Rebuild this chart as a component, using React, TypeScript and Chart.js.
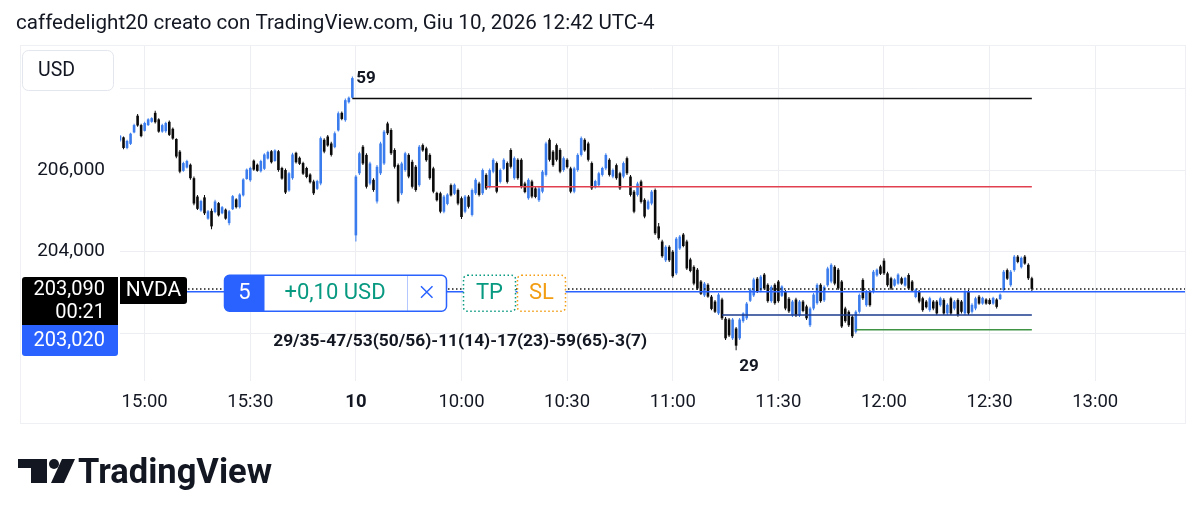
import React, { useEffect, useRef } from "react";
import { Chart, registerables } from "chart.js";

Chart.register(...registerables);

const TITLE = "caffedelight20 creato con TradingView.com, Giu 10, 2026 12:42 UTC-4";

// 1-minute candles, index 0 = 14:53 (previous session) ... index 259 = 12:42
const opens = [
206.72,206.80,206.54,206.64,206.92,207.33,207.10,206.96,207.10,207.18,
207.40,207.24,206.94,206.95,207.18,207.01,206.76,206.45,205.98,206.06,
206.13,205.80,205.35,205.01,205.33,204.81,205.00,204.97,205.19,204.94,
205.03,204.70,205.04,205.28,205.09,205.38,205.78,205.75,206.23,206.13,
205.97,206.03,206.28,206.46,206.22,206.46,206.05,206.00,205.50,205.80,
206.42,206.30,206.17,206.05,205.89,205.72,205.54,205.67,206.74,206.82,
206.65,206.56,206.97,207.40,207.22,207.66,207.77,204.40,205.92,206.57,
206.37,205.67,205.76,205.23,205.92,206.16,207.14,206.98,206.49,206.12,
205.43,206.00,206.37,206.20,206.08,205.63,206.61,206.53,206.37,206.04,
205.44,205.43,204.98,205.17,205.63,205.42,205.51,205.31,204.98,205.35,
204.90,205.43,205.67,205.43,205.88,205.59,205.96,206.17,205.71,206.03,
206.17,206.49,205.80,206.25,206.25,205.67,205.31,205.72,205.55,205.26,
205.47,205.88,206.74,206.45,206.61,206.49,206.00,206.25,206.04,205.47,
206.00,206.37,206.74,206.65,206.17,205.58,205.63,205.88,206.04,206.25,
205.84,206.12,205.92,205.84,206.29,205.84,205.47,205.39,205.72,205.27,
205.05,205.18,205.51,204.62,204.25,203.79,204.12,204.00,203.47,204.08,
204.42,204.25,203.81,203.63,203.56,203.27,202.93,203.19,202.90,202.78,
202.49,202.83,202.36,202.34,201.88,202.12,201.88,202.30,202.37,202.80,
202.93,203.34,203.05,203.44,203.19,202.79,203.19,203.27,202.92,203.02,
202.85,202.44,202.83,202.44,202.78,202.66,202.20,202.61,202.74,203.19,
202.81,203.18,203.27,203.63,203.56,203.27,202.61,202.53,202.41,202.04,
202.53,203.31,202.69,203.02,203.02,203.42,203.64,203.78,203.47,203.35,
203.17,203.22,203.35,203.17,203.43,203.27,202.89,203.02,202.86,202.78,
202.57,202.78,202.78,202.69,202.82,202.49,202.86,202.61,202.82,202.78,
202.49,203.02,202.53,202.61,202.90,202.73,202.83,202.82,202.73,202.83,
202.84,203.06,203.55,203.18,203.55,203.88,203.62,203.88,203.68,203.35
];

const highs = [
206.86,206.82,206.74,206.91,207.13,207.37,207.13,207.18,207.27,207.29,
207.45,207.27,207.13,207.18,207.21,207.04,206.78,206.49,206.20,206.25,
206.16,205.84,205.39,205.27,205.39,205.02,205.06,205.27,205.22,205.12,
205.06,205.02,205.39,205.31,205.43,205.80,206.04,206.08,206.26,206.16,
206.25,206.41,206.47,206.49,206.51,206.49,206.08,206.04,205.96,206.42,
206.45,206.33,206.20,206.08,205.92,205.76,205.76,206.82,206.78,206.86,
206.69,206.94,207.43,207.43,207.75,207.80,208.29,205.88,206.45,206.61,
206.41,206.20,205.80,206.12,206.69,206.98,207.18,207.02,206.53,206.16,
206.20,206.45,206.41,206.25,206.12,206.61,206.65,206.57,206.41,206.08,
205.47,205.47,205.39,205.43,205.67,205.67,205.55,205.35,205.39,205.39,
205.55,205.80,205.71,206.04,205.92,206.04,206.29,206.21,206.04,206.29,
206.21,206.53,206.33,206.29,206.29,205.71,205.80,205.76,205.59,205.59,
206.00,206.69,206.78,206.49,206.65,206.53,206.33,206.29,206.08,206.08,
206.41,206.82,206.78,206.69,206.21,205.76,205.96,206.08,206.41,206.29,
206.04,206.16,205.96,206.21,206.33,205.88,205.51,205.71,205.76,205.31,
205.27,205.51,205.55,204.70,204.29,204.16,204.16,204.04,204.36,204.41,
204.46,204.29,203.85,203.67,203.60,203.31,203.26,203.23,202.94,202.82,
202.99,202.87,202.40,202.38,202.38,202.16,202.38,202.52,202.77,203.11,
203.36,203.38,203.43,203.48,203.23,203.18,203.23,203.31,203.18,203.06,
202.89,202.82,202.87,202.82,202.82,202.70,202.65,202.99,203.23,203.23,
203.18,203.63,203.72,203.67,203.60,203.31,202.65,202.57,202.45,202.57,
202.98,203.35,203.06,203.06,203.55,203.59,203.68,203.84,203.51,203.39,
203.35,203.47,203.39,203.39,203.47,203.31,203.10,203.06,202.90,202.82,
202.90,202.82,202.82,202.90,202.86,202.74,202.90,202.82,202.86,202.82,
203.06,203.06,202.74,202.90,202.94,202.90,202.86,202.86,202.90,202.86,
202.98,203.55,203.59,203.55,203.92,203.92,203.88,203.92,203.72,203.39
];

const lows = [
206.69,206.51,206.51,206.61,206.90,207.06,206.80,206.94,207.08,207.16,
207.14,206.91,206.91,206.91,206.83,206.74,206.29,205.92,205.96,206.04,
205.76,205.14,205.02,204.98,204.90,204.78,204.55,204.94,204.86,204.92,
204.78,204.65,205.02,205.06,205.06,205.35,205.76,205.71,205.98,205.96,
205.94,206.00,206.26,206.16,206.20,205.96,205.76,205.41,205.47,205.76,
206.16,206.12,205.88,205.80,205.67,205.39,205.51,205.63,206.41,206.57,
206.33,206.53,206.94,207.22,207.18,207.63,207.75,204.25,205.88,206.12,
205.55,205.63,205.47,205.18,205.88,206.12,206.86,206.37,206.04,205.18,
205.39,205.96,205.80,205.55,205.47,205.59,206.45,206.20,205.76,205.43,
205.23,204.94,204.94,205.14,205.35,205.39,205.14,204.80,204.94,205.06,
204.86,205.39,205.35,205.39,205.51,205.55,205.92,205.43,205.67,206.00,
205.67,206.04,205.76,205.76,205.55,205.43,205.27,205.31,205.31,205.22,
205.43,205.84,206.21,206.08,206.21,205.92,205.96,206.04,205.43,205.43,
205.96,206.33,206.45,206.21,205.51,205.55,205.59,205.84,206.00,205.84,
205.80,205.76,205.51,205.80,205.88,205.35,204.94,205.35,205.18,204.82,
205.02,205.14,204.41,204.29,203.85,203.75,203.75,203.36,203.43,204.04,
204.11,203.55,203.50,203.18,203.06,202.94,202.89,202.87,202.57,202.50,
202.45,202.33,201.84,201.91,201.84,201.59,201.84,202.26,202.33,202.77,
202.89,202.99,203.01,203.06,202.75,202.75,202.70,202.75,202.89,202.57,
202.50,202.40,202.40,202.40,202.52,202.33,202.16,202.57,202.70,202.75,
202.77,203.14,203.23,203.18,203.06,202.13,202.26,202.16,201.89,202.00,
202.49,202.82,202.65,202.65,202.98,203.39,203.43,203.43,203.14,203.06,
203.14,203.19,203.19,203.14,203.06,203.02,202.86,202.74,202.53,202.61,
202.53,202.57,202.45,202.65,202.45,202.45,202.45,202.57,202.41,202.49,
202.45,202.45,202.49,202.57,202.70,202.70,202.70,202.70,202.70,202.61,
202.82,203.02,203.31,203.14,203.51,203.72,203.59,203.68,203.31,203.02
];

const closes = [
206.84,206.54,206.71,206.89,207.10,207.09,206.83,207.15,207.24,207.27,
207.17,206.94,207.10,207.15,206.86,206.77,206.33,205.96,206.17,206.22,
205.80,205.18,205.05,205.24,204.94,204.99,204.62,205.23,204.89,205.09,
204.81,204.99,205.36,205.09,205.40,205.77,206.01,206.05,206.01,205.98,
206.22,206.38,206.44,206.19,206.48,206.00,205.79,205.45,205.92,206.38,
206.19,206.15,205.91,205.83,205.70,205.43,205.73,206.78,206.45,206.60,
206.37,206.90,207.39,207.25,207.71,207.77,208.25,205.84,206.41,206.16,
205.59,206.16,205.51,206.08,206.65,206.94,206.90,206.41,206.08,205.23,
206.16,206.41,205.84,205.59,205.51,206.57,206.48,206.24,205.80,205.47,
205.26,204.98,205.35,205.40,205.38,205.64,205.18,204.85,205.35,205.10,
205.51,205.76,205.39,206.00,205.55,206.00,206.25,205.47,206.00,206.25,
205.71,206.08,206.29,205.80,205.59,205.46,205.76,205.35,205.34,205.55,
205.96,206.65,206.25,206.12,206.25,205.96,206.29,206.07,205.47,206.04,
206.37,206.78,206.48,206.25,205.55,205.73,205.92,206.05,206.37,205.88,
206.00,205.80,205.55,206.17,205.92,205.39,204.98,205.67,205.22,204.86,
205.23,205.47,204.45,204.33,203.89,204.12,203.79,203.40,204.32,204.37,
204.14,203.59,203.53,203.22,203.10,202.97,203.22,202.90,202.60,202.53,
202.95,202.37,201.88,201.95,202.34,201.70,202.34,202.49,202.73,203.07,
203.32,203.03,203.39,203.10,202.79,203.14,202.74,202.79,203.15,202.61,
202.54,202.78,202.44,202.78,202.55,202.37,202.61,202.95,203.19,202.79,
203.14,203.59,203.68,203.22,203.10,202.17,202.30,202.20,201.93,202.53,
202.94,202.86,203.02,202.69,203.51,203.56,203.46,203.47,203.18,203.10,
203.32,203.44,203.22,203.36,203.10,203.05,203.07,202.78,202.57,202.64,
202.86,202.61,202.49,202.86,202.49,202.70,202.49,202.78,202.45,202.53,
203.02,202.49,202.70,202.86,202.73,202.87,202.73,202.72,202.87,202.65,
202.95,203.51,203.34,203.51,203.88,203.75,203.85,203.71,203.35,203.09
];

// Time axis: candle index of each label
const timeTickIdx = [7, 37, 67, 97, 127, 157, 187, 217, 247, 277];
const timeTickLabels = ["15:00", "15:30", "10", "10:00", "10:30", "11:00", "11:30", "12:00", "12:30", "13:00"];
const boldTimeTick = 67;

// Price axis
const priceTicks = [202, 204, 206, 208];
const hiddenPriceTicks = [202, 208];

// Horizontal drawings
const levelPrices = [207.75, 205.59, 202.45, 202.09];
const levelStart = [66, 104, 171, 209];
const levelEnd = 259;

const lastPrice = 203.09;
const entryPrice = 203.02;
const countdown = "00:21";
const symbol = "NVDA";
const qty = "5";
const pnl = "+0,10 USD";

const markerIdx = [66, 175];
const markerText = ["59", "29"];
const noteText = "29/35-47/53(50/56)-11(14)-17(23)-59(65)-3(7)";
const noteIdx = 43.5;
const notePrice = 201.81;

const X_MAX = 302.5;
const Y_MIN = 200.835;
const Y_MAX = 209.036;

const UP = "#3a7ced";
const DOWN = "#0a0a0a";
const TEXT = "#131722";
const GRID = "#eceef2";
const BLUE = "#2962ff";
const LEVEL_COLORS = ["#0b0b0b", "#e0404f", "#1d3b8f", "#3e9444"];

const fmtPrice = (v: number) => v.toFixed(3).replace(".", ",");

function rr(ctx: CanvasRenderingContext2D, x: number, y: number, w: number, h: number, r: any) {
  ctx.beginPath();
  (ctx as any).roundRect(x, y, w, h, r);
}

const overlayPlugin = {
  id: "overlay",
  beforeDraw(chart: any) {
    const { ctx, width, height } = chart;
    ctx.save();
    ctx.fillStyle = "#ffffff";
    ctx.fillRect(0, 0, width, height);
    ctx.restore();
  },
  afterDraw(chart: any) {
    const ctx: CanvasRenderingContext2D = chart.ctx;
    const xs = chart.scales.x;
    const ys = chart.scales.y;
    const ca = chart.chartArea;
    ctx.save();

    // frame
    ctx.strokeStyle = "#eef0f3";
    ctx.lineWidth = 1;
    ctx.strokeRect(20.5, 45.5, ca.right - 20, 423 - 45);

    // title
    ctx.fillStyle = TEXT;
    ctx.font = "20.6px Roboto";
    ctx.textBaseline = "middle";
    ctx.textAlign = "left";
    ctx.fillText(TITLE, 16, 24);

    // currency box
    rr(ctx, 22.5, 50.5, 91, 40, 6);
    ctx.fillStyle = "#ffffff";
    ctx.fill();
    ctx.strokeStyle = "#e3e6ec";
    ctx.stroke();
    ctx.fillStyle = TEXT;
    ctx.font = "19.5px Roboto";
    ctx.fillText("USD", 38, 71);

    // markers
    ctx.font = "bold 17px Roboto";
    ctx.fillStyle = TEXT;
    ctx.textAlign = "left";
    ctx.fillText(markerText[0], xs.getPixelForValue(markerIdx[0]) + 4, ys.getPixelForValue(highs[markerIdx[0]]) + 2);
    ctx.textAlign = "center";
    ctx.fillText(markerText[1], xs.getPixelForValue(markerIdx[1]) + 13, ys.getPixelForValue(lows[markerIdx[1]]) + 17);
    ctx.textAlign = "left";
    ctx.font = "bold 17.4px Roboto";
    ctx.fillText(noteText, xs.getPixelForValue(noteIdx), ys.getPixelForValue(notePrice));

    const yLast = ys.getPixelForValue(lastPrice);
    const yEntry = ys.getPixelForValue(entryPrice);

    // price labels on axis
    ctx.fillStyle = "#000000";
    rr(ctx, 22, yLast - 12, 96, 48, [3, 0, 0, 0]);
    ctx.fill();
    ctx.fillStyle = BLUE;
    rr(ctx, 22, yLast + 36, 96, 31, [0, 0, 3, 3]);
    ctx.fill();
    ctx.fillStyle = "#ffffff";
    ctx.font = "20px Roboto";
    ctx.textAlign = "right";
    ctx.fillText(fmtPrice(lastPrice), 105, yLast + 1.5);
    ctx.fillText(countdown, 105, yLast + 24);
    ctx.fillText(fmtPrice(entryPrice), 105, yLast + 52);

    // symbol label
    ctx.fillStyle = "#000000";
    rr(ctx, 120, yLast - 12, 67, 27, [0, 3, 3, 0]);
    ctx.fill();
    ctx.fillStyle = "#ffffff";
    ctx.textAlign = "center";
    ctx.font = "21px Roboto";
    ctx.fillText(symbol, 153.5, yLast + 1.5);

    // order widget
    const top = yEntry - 17;
    rr(ctx, 224.5, top + 0.5, 222, 36, 5);
    ctx.fillStyle = "#ffffff";
    ctx.fill();
    rr(ctx, 224.5, top + 0.5, 40, 36, [5, 0, 0, 5]);
    ctx.fillStyle = BLUE;
    ctx.fill();
    rr(ctx, 224.5, top + 0.5, 222, 36, 5);
    ctx.strokeStyle = BLUE;
    ctx.lineWidth = 1.5;
    ctx.stroke();
    ctx.fillStyle = "#ffffff";
    ctx.font = "22px Roboto";
    ctx.fillText(qty, 244.5, yEntry + 1.5);
    ctx.fillStyle = "#089981";
    ctx.fillText(pnl, 335, yEntry + 1.5);
    ctx.strokeStyle = "rgba(41,98,255,0.35)";
    ctx.lineWidth = 1;
    ctx.beginPath();
    ctx.moveTo(407.5, top + 1);
    ctx.lineTo(407.5, top + 36);
    ctx.stroke();
    ctx.strokeStyle = BLUE;
    ctx.lineWidth = 1.5;
    ctx.beginPath();
    ctx.moveTo(421, yEntry - 5.5);
    ctx.lineTo(432.5, yEntry + 6);
    ctx.moveTo(432.5, yEntry - 5.5);
    ctx.lineTo(421, yEntry + 6);
    ctx.stroke();

    // TP / SL buttons
    const btn = (x: number, w: number, color: string, label: string) => {
      rr(ctx, x + 0.5, top + 0.5, w, 36, 4);
      ctx.fillStyle = "#ffffff";
      ctx.fill();
      ctx.setLineDash([1.5, 2.5]);
      ctx.strokeStyle = color;
      ctx.lineWidth = 1.5;
      ctx.stroke();
      ctx.setLineDash([]);
      ctx.fillStyle = color;
      ctx.font = "22px Roboto";
      ctx.textAlign = "center";
      ctx.fillText(label, x + w / 2 + 0.5, yEntry + 1.5);
    };
    btn(463, 52, "#089981", "TP");
    btn(517, 48, "#f29d12", "SL");

    // TradingView logo
    ctx.fillStyle = TEXT;
    ctx.fillRect(18, 459, 29, 9);
    ctx.fillRect(31, 459, 16, 24);
    ctx.beginPath();
    ctx.arc(54, 464, 5, 0, Math.PI * 2);
    ctx.fill();
    ctx.beginPath();
    ctx.moveTo(62, 459);
    ctx.lineTo(75, 459);
    ctx.lineTo(64, 483);
    ctx.lineTo(51, 483);
    ctx.closePath();
    ctx.fill();
    ctx.font = "bold 34.5px Roboto";
    ctx.textAlign = "left";
    ctx.textBaseline = "alphabetic";
    ctx.fillText("TradingView", 78, 483);

    ctx.restore();
  },
};

export default function App() {
  const ref = useRef<HTMLCanvasElement>(null);

  useEffect(() => {
    if (!ref.current) return;
    Chart.defaults.font.family = "Roboto";
    const idx = opens.map((_, i) => i);
    const candleColors = idx.map((i) => (closes[i] >= opens[i] ? UP : DOWN));

    const lineSets = levelPrices.map((p, k) => ({
      type: "line" as const,
      data: [
        { x: levelStart[k], y: p },
        { x: levelEnd, y: p },
      ],
      borderColor: LEVEL_COLORS[k],
      borderWidth: 1.5,
      pointRadius: 0,
      order: 2,
    }));

    const chart = new Chart(ref.current, {
      type: "bar",
      data: {
        datasets: [
          {
            type: "line",
            data: [
              { x: 0, y: lastPrice },
              { x: X_MAX, y: lastPrice },
            ],
            borderColor: "#1a1a1a",
            borderWidth: 1.5,
            borderDash: [1.5, 2.5],
            pointRadius: 0,
            order: 0,
          } as any,
          {
            type: "line",
            data: [
              { x: 0, y: entryPrice },
              { x: X_MAX, y: entryPrice },
            ],
            borderColor: BLUE,
            borderWidth: 1.5,
            pointRadius: 0,
            order: 1,
          } as any,
          ...(lineSets as any[]),
          {
            type: "bar",
            data: idx.map((i) => ({ x: i, y: [opens[i], closes[i]] })),
            backgroundColor: candleColors,
            borderWidth: 0,
            barThickness: 2.6,
            grouped: false,
            inflateAmount: 0,
            order: 3,
          } as any,
          {
            type: "bar",
            data: idx.map((i) => ({ x: i, y: [lows[i], highs[i]] })),
            backgroundColor: candleColors,
            borderWidth: 0,
            barThickness: 1,
            grouped: false,
            inflateAmount: 0,
            order: 4,
          } as any,
        ],
      },
      options: {
        responsive: false,
        devicePixelRatio: 1,
        animation: false,
        events: [],
        layout: { padding: { left: 20, top: 46, right: 15, bottom: 98 } },
        plugins: { legend: { display: false }, tooltip: { enabled: false }, title: { display: false } },
        scales: {
          x: {
            type: "linear",
            min: 0,
            max: X_MAX,
            offset: false,
            grid: { color: GRID, drawTicks: false, offset: false },
            border: { display: false },
            afterBuildTicks: (s: any) => {
              s.ticks = timeTickIdx.map((v) => ({ value: v }));
            },
            afterFit: (s: any) => {
              s.height = 42;
            },
            ticks: {
              autoSkip: false,
              maxRotation: 0,
              padding: 10,
              color: TEXT,
              font: (c: any) => ({
                family: "Roboto",
                size: 18.5,
                weight: c.tick && c.tick.value === boldTimeTick ? "bold" : "normal",
              }),
              callback: (v: any) => {
                const k = timeTickIdx.indexOf(Number(v));
                return k >= 0 ? timeTickLabels[k] : "";
              },
            },
          } as any,
          y: {
            type: "linear",
            position: "left",
            min: Y_MIN,
            max: Y_MAX,
            grid: { color: GRID, drawTicks: false },
            border: { display: false },
            afterBuildTicks: (s: any) => {
              s.ticks = priceTicks.map((v) => ({ value: v }));
            },
            afterFit: (s: any) => {
              s.width = 100;
            },
            ticks: {
              padding: 15,
              color: TEXT,
              font: { family: "Roboto", size: 19 },
              callback: (v: any) => (hiddenPriceTicks.includes(Number(v)) ? "" : fmtPrice(Number(v))),
            },
          } as any,
        },
      },
      plugins: [overlayPlugin as any],
    });
    return () => chart.destroy();
  }, []);

  return (
    <div style={{ position: "absolute", left: 0, top: 0, width: 1200, height: 521, background: "#ffffff" }}>
      <canvas ref={ref} width={1200} height={521} style={{ display: "block", width: 1200, height: 521 }} />
    </div>
  );
}
